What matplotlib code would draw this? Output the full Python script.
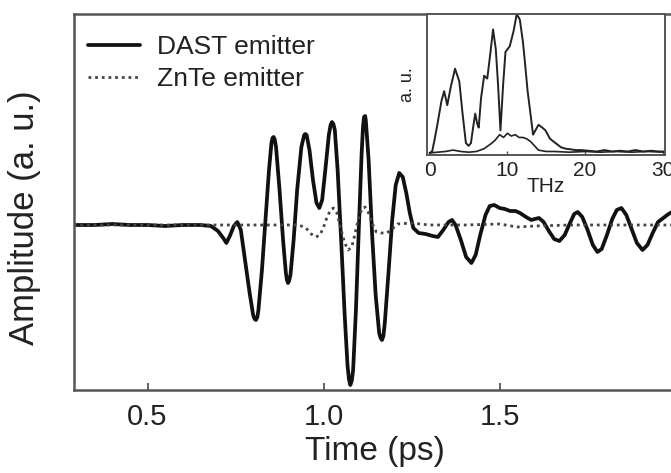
import matplotlib
matplotlib.use("Agg")
import matplotlib.pyplot as plt

plt.rcParams['font.family'] = ['Liberation Sans', 'DejaVu Sans']

# Time-domain THz waveforms (time in ps, amplitude in arbitrary units)
dast_time = [0.29, 0.35, 0.40, 0.45, 0.50, 0.55, 0.60, 0.65, 0.68,
             0.70, 0.715, 0.724, 0.735, 0.745, 0.755, 0.765,
             0.775, 0.79, 0.80, 0.804, 0.808, 0.812, 0.815, 0.825, 0.835, 0.845,
             0.852, 0.855, 0.858, 0.861, 0.865, 0.875, 0.885, 0.893, 0.896, 0.899,
             0.902, 0.906, 0.915, 0.925, 0.937, 0.945, 0.948, 0.952, 0.96, 0.97,
             0.98, 0.988, 0.996, 1.005, 1.015, 1.02, 1.024, 1.028, 1.032,
             1.04, 1.05, 1.06, 1.068, 1.072, 1.076, 1.08, 1.084, 1.092, 1.10,
             1.108, 1.112, 1.115, 1.118, 1.12, 1.128, 1.138, 1.148, 1.158, 1.162,
             1.166, 1.17, 1.174, 1.185, 1.195, 1.205, 1.215, 1.225, 1.235, 1.245,
             1.255, 1.27, 1.29, 1.31, 1.325, 1.34,
             1.355, 1.365, 1.375, 1.39, 1.405, 1.42, 1.432, 1.445, 1.46, 1.472,
             1.485, 1.50, 1.515, 1.53, 1.545, 1.558, 1.575, 1.59, 1.60, 1.612,
             1.625, 1.64, 1.655, 1.67, 1.685, 1.70, 1.712, 1.722, 1.735, 1.75,
             1.765, 1.778, 1.79, 1.805, 1.82, 1.833, 1.846, 1.86, 1.875, 1.89,
             1.906, 1.92, 1.935, 1.95, 1.965, 1.98, 1.995, 2.0]
dast_amp = [0.0, 0.0, 0.01, 0.0, 0.0, -0.01, 0.0, 0.0, -0.01,
            -0.06, -0.13, -0.18, -0.10, -0.01, 0.03, -0.05,
            -0.30, -0.68, -0.90, -0.94, -0.95, -0.92, -0.85, -0.45, 0.05, 0.55,
            0.82, 0.87, 0.88, 0.86, 0.78, 0.35, -0.15, -0.48, -0.55, -0.58,
            -0.56, -0.50, -0.15, 0.35, 0.78, 0.90, 0.91, 0.90, 0.75, 0.45,
            0.22, 0.17, 0.25, 0.55, 0.90, 1.00, 1.03, 1.01, 0.95,
            0.55, -0.15, -0.90, -1.40, -1.54, -1.60, -1.56, -1.45, -0.85, -0.05,
            0.70, 0.98, 1.08, 1.09, 1.05, 0.65, -0.10, -0.70, -1.08, -1.13,
            -1.15, -1.11, -0.98, -0.45, 0.05, 0.40,
            0.52, 0.48, 0.32, 0.12,
            -0.03, -0.08, -0.09, -0.11, -0.12, -0.05,
            0.03, 0.05, 0.0, -0.15, -0.32, -0.38, -0.30, -0.10, 0.10, 0.19,
            0.20, 0.17, 0.16, 0.14, 0.14, 0.12, 0.08, 0.05, 0.06, 0.07,
            0.03, -0.06, -0.14, -0.16, -0.10, 0.02, 0.11, 0.13, 0.08, -0.05,
            -0.20, -0.27, -0.24, -0.10, 0.06, 0.15, 0.17, 0.10, -0.04, -0.18,
            -0.25, -0.20, -0.08, 0.03, 0.07, 0.11, 0.14, 0.15]

znte_time = [0.29, 0.40, 0.50, 0.60, 0.70, 0.80, 0.90, 0.93, 0.95, 0.965,
             0.978, 0.99, 1.0, 1.01, 1.02, 1.028, 1.038, 1.05, 1.06, 1.07,
             1.08, 1.09, 1.10, 1.11, 1.118, 1.128, 1.14, 1.15, 1.165, 1.18,
             1.195, 1.21, 1.25, 1.30, 1.40, 1.50, 1.55, 1.60, 1.70, 1.80,
             1.90, 2.0]
znte_amp = [0.0, 0.0, 0.0, 0.0, 0.0, 0.0, 0.0, 0.0, -0.03, -0.09,
            -0.12, -0.10, -0.02, 0.08, 0.15, 0.17, 0.12, -0.05, -0.18, -0.25,
            -0.22, -0.08, 0.08, 0.17, 0.18, 0.12, 0.0, -0.07, -0.08, -0.08,
            -0.04, 0.01, 0.02, 0.0, 0.0, 0.01, -0.02, -0.01, 0.0, 0.0,
            0.0, 0.0]

# Amplitude spectra (frequency in THz)
dast_freq = [0, 0.3, 0.6, 1.0, 1.5, 1.85, 2.25, 2.7, 3.25, 3.8, 4.2, 4.65, 5.0,
             5.3, 5.6, 5.85, 6.1, 6.3, 6.6, 7.0, 7.4, 7.8, 8.15, 8.5, 8.8, 9.1,
             9.45, 9.75, 10.3, 10.8, 11.2, 11.6, 12.0, 12.3, 12.6, 12.9, 13.3,
             13.7, 14.0, 14.5, 14.9, 15.5, 16.2, 16.9, 17.5, 18.2, 18.8, 19.5,
             20.5, 21.5, 22.5, 23.5, 24.5, 25.5, 26.5, 27.5, 28.5, 29.5, 30.5]
dast_spec = [0.01, 0.02, 0.10, 0.22, 0.38, 0.45, 0.35, 0.48, 0.61, 0.52, 0.30,
             0.08, 0.06, 0.08, 0.20, 0.29, 0.22, 0.19, 0.40, 0.56, 0.54, 0.72,
             0.89, 0.75, 0.49, 0.17, 0.50, 0.73, 0.77, 0.88, 1.00, 0.96, 0.80,
             0.63, 0.45, 0.32, 0.14, 0.18, 0.21, 0.19, 0.17, 0.11, 0.08, 0.05,
             0.04, 0.035, 0.03, 0.03, 0.025, 0.02, 0.03, 0.02, 0.025, 0.02,
             0.03, 0.02, 0.025, 0.02, 0.02]

znte_freq = [0, 1, 2, 3, 4, 5, 6, 7, 7.5, 8, 8.4, 9.0, 9.5, 10.0, 10.5, 11.0,
             11.5, 12.0, 12.5, 13.0, 13.5, 14.0, 15, 16, 18, 20, 22, 24, 26,
             28, 30.5]
znte_spec = [0.01, 0.015, 0.02, 0.03, 0.02, 0.015, 0.02, 0.04, 0.06, 0.08,
             0.10, 0.14, 0.12, 0.15, 0.13, 0.14, 0.12, 0.12, 0.11, 0.09, 0.06,
             0.03, 0.02, 0.02, 0.015, 0.02, 0.015, 0.02, 0.015, 0.02, 0.015]

legend_labels = ["DAST emitter", "ZnTe emitter"]
time_ticks = [0.5, 1.0, 1.5]
time_ticklabels = ["0.5", "1.0", "1.5"]
freq_ticks = [0, 10, 20, 30]

W, H = 671, 473
fig = plt.figure(figsize=(W / 100, H / 100), dpi=100)
fig.patch.set_facecolor("white")

spine_col = "#555555"
line_col = "#111111"

# main panel (extends slightly past the right edge of the canvas)
ax = fig.add_axes([73.6 / W, 1 - 390 / H, 602 / W, (390 - 14) / H])
ax.plot(dast_time, dast_amp, color=line_col, lw=2.7, label=legend_labels[0],
        solid_joinstyle="round", solid_capstyle="round")
ax.plot(znte_time, znte_amp, color="#444444", lw=2.0, ls=(0, (1, 1.4)),
        label=legend_labels[1])
ax.set_xlim(0.29, 2.0)
ax.set_ylim(-1.65, 2.11)
ax.set_xticks(time_ticks)
ax.set_xticklabels(time_ticklabels)
ax.set_yticks([])
ax.tick_params(axis="x", direction="in", length=5, width=1.3, colors=spine_col,
               labelcolor="#222222", labelsize=21, pad=9)
for s in ax.spines.values():
    s.set_color(spine_col)
    s.set_linewidth(1.8)
ax.set_xlabel("Time (ps)", fontsize=24, color="#222222", labelpad=4)
ax.set_ylabel("Amplitude (a. u.)", fontsize=25, color="#222222")
ax.yaxis.set_label_coords(-0.054, 0.457)

leg = ax.legend(loc="upper left", bbox_to_anchor=(0.024, 0.944), frameon=False,
                fontsize=19, handlelength=1.95, handletextpad=0.65,
                labelspacing=0.3, borderpad=0, borderaxespad=0)
for t in leg.get_texts():
    t.set_color("#222222")

# inset: amplitude spectra
ins = fig.add_axes([426.7 / W, 1 - 155 / H, (665 - 426.7) / W, (155 - 14) / H])
ins.plot(dast_freq, dast_spec, color="#222222", lw=1.4)
ins.plot(znte_freq, znte_spec, color="#222222", lw=1.2)
ins.set_xlim(-0.4, 30.3)
ins.set_ylim(-0.005, 1.0)
ins.set_xticks(freq_ticks)
ins.set_yticks([])
ins.tick_params(axis="x", direction="in", length=3, width=1.0, colors=spine_col,
                labelcolor="#222222", labelsize=15, pad=4)
for s in ins.spines.values():
    s.set_color(spine_col)
    s.set_linewidth(1.4)
ins.set_xlabel("THz", fontsize=15, color="#222222", labelpad=-2)
ins.set_ylabel("a. u.", fontsize=13, color="#222222", labelpad=8)

fig.savefig("out.png", dpi=100, facecolor="white")
